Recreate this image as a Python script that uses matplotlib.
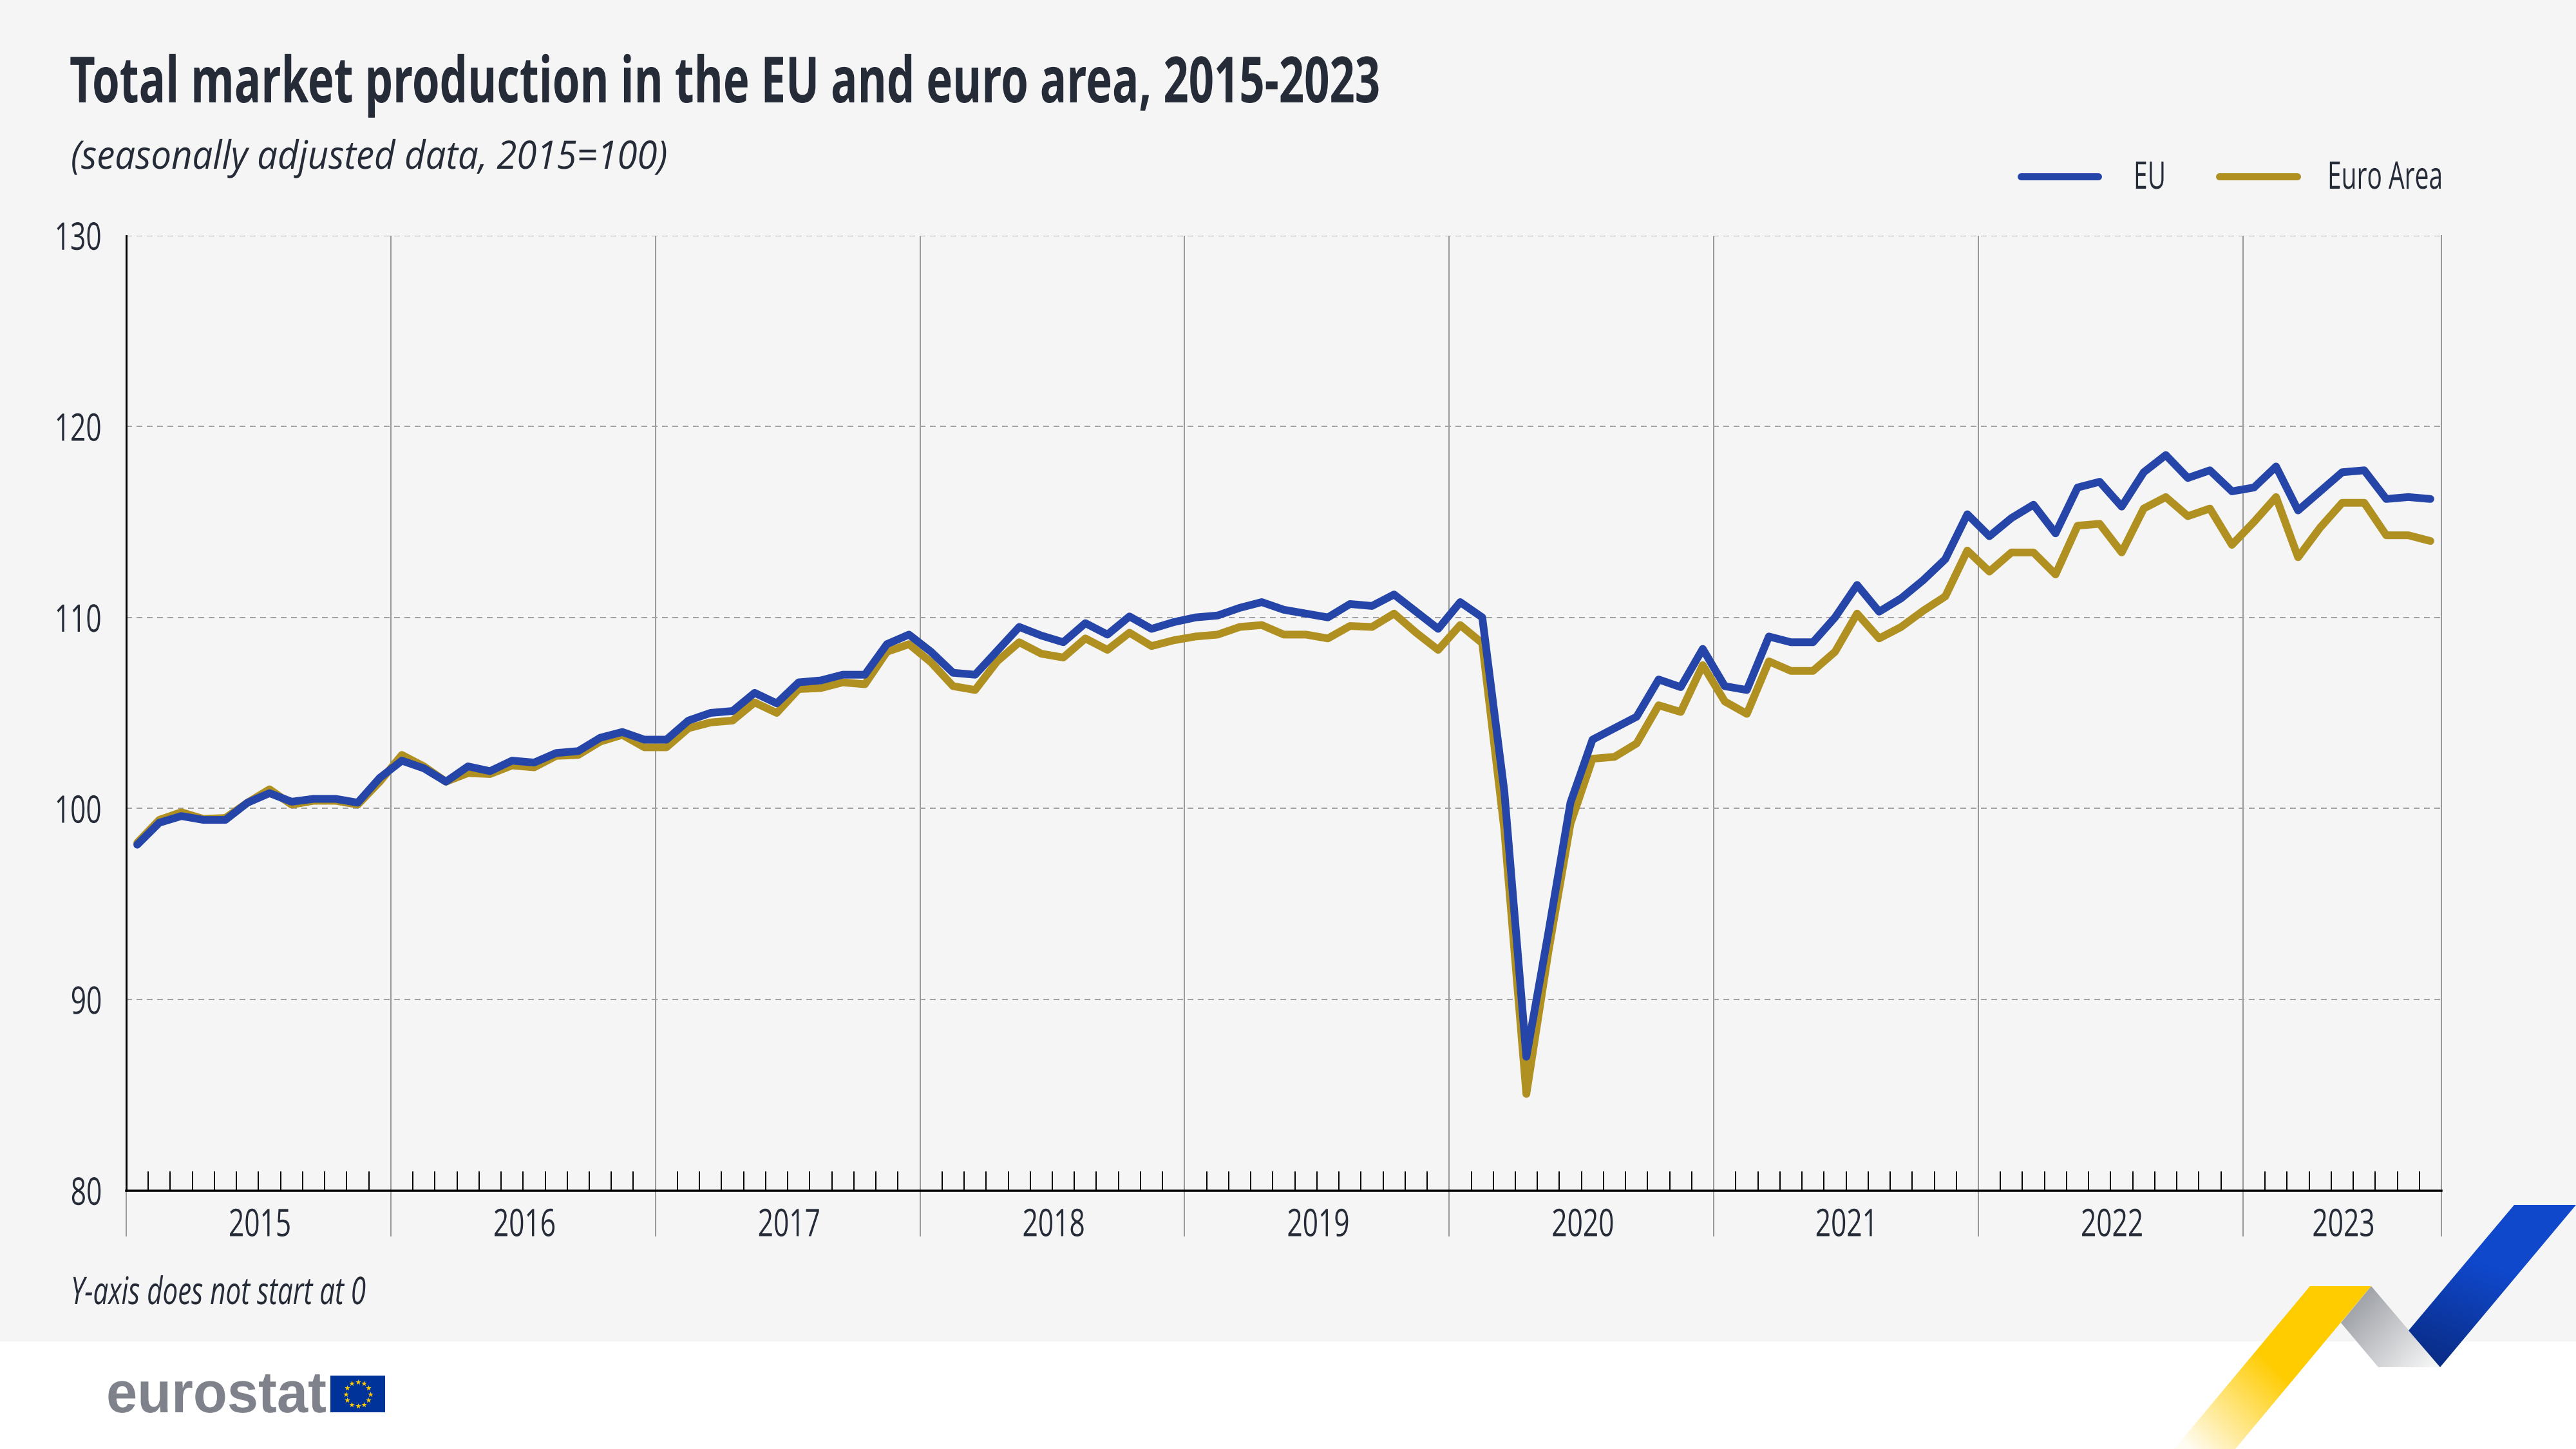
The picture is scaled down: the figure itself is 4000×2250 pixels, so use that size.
import numpy as np
import matplotlib
matplotlib.use("Agg")
import matplotlib.pyplot as plt
from matplotlib.patches import Polygon, Rectangle
from matplotlib.patheffects import AbstractPathEffect
from matplotlib.transforms import Affine2D

plt.rcParams["font.family"] = ["Open Sans", "DejaVu Sans"]

# monthly index, 2015-01 to 2023-09
eu = [
    98.1, 99.25, 99.6, 99.4, 99.4, 100.3, 100.8, 100.35, 100.5, 100.5, 100.3, 101.6,
    102.5, 102.1, 101.4, 102.2, 101.95, 102.5, 102.4, 102.9, 103.0, 103.7, 104.0, 103.6,
    103.6, 104.6, 105.0, 105.1, 106.05, 105.5, 106.6, 106.7, 107.0, 107.0, 108.6, 109.1,
    108.2, 107.1, 107.0, 108.25, 109.5, 109.05, 108.7, 109.7, 109.1, 110.05, 109.4, 109.75,
    110.0, 110.1, 110.5, 110.8, 110.4, 110.2, 110.0, 110.7, 110.6, 111.2, 110.3, 109.4,
    110.8, 110.0, 100.9, 87.0, 93.5, 100.3, 103.6, 104.2, 104.8, 106.75, 106.35, 108.35,
    106.4, 106.2, 109.0, 108.7, 108.7, 110.0, 111.7, 110.3, 111.0, 111.95, 113.05, 115.4,
    114.25, 115.2, 115.9, 114.4, 116.8, 117.1, 115.8, 117.6, 118.5, 117.3, 117.7, 116.6,
    116.8, 117.9, 115.6, 116.6, 117.6, 117.7, 116.2, 116.3, 116.2,
]
euro_area = [
    98.2, 99.4, 99.8, 99.45, 99.5, 100.3, 101.0, 100.2, 100.4, 100.4, 100.2, 101.4,
    102.8, 102.2, 101.4, 101.85, 101.8, 102.25, 102.15, 102.75, 102.8, 103.5, 103.85, 103.2,
    103.2, 104.2, 104.5, 104.6, 105.55, 105.0, 106.25, 106.3, 106.6, 106.5, 108.2, 108.6,
    107.65, 106.4, 106.2, 107.7, 108.7, 108.1, 107.9, 108.9, 108.3, 109.2, 108.5, 108.8,
    109.0, 109.1, 109.5, 109.6, 109.1, 109.1, 108.9, 109.55, 109.5, 110.2, 109.2, 108.3,
    109.6, 108.65, 98.9, 85.05, 92.5, 99.2, 102.6, 102.7, 103.4, 105.4, 105.05, 107.5,
    105.6, 104.95, 107.7, 107.2, 107.2, 108.2, 110.2, 108.9, 109.5, 110.35, 111.1, 113.5,
    112.4, 113.4, 113.4, 112.25, 114.8, 114.9, 113.4, 115.7, 116.3, 115.3, 115.7, 113.8,
    115.0, 116.3, 113.15, 114.7, 116.0, 116.0, 114.3, 114.3, 114.0,
]
years = ["2015", "2016", "2017", "2018", "2019", "2020", "2021", "2022", "2023"]
y_ticks = [80, 90, 100, 110, 120, 130]

BG = "#F5F5F5"
TEXT = "#262B38"
EU_COL = "#2645A9"
EA_COL = "#B09020"
W, H = 4000, 2250
PX = 72 / 250  # points per pixel


class Squeeze(AbstractPathEffect):
    # no condensed font is installed, so narrow the glyphs of a normal Text
    def __init__(self, sx, align=0.0):
        super().__init__()
        self.sx = sx
        self.align = align

    def draw_path(self, renderer, gc, tpath, affine, rgbFace=None):
        width = tpath.get_extents(affine).width
        shift = self.align * (1 - self.sx) * width
        new = Affine2D().scale(self.sx, 1) + affine + Affine2D().translate(shift, 0)
        renderer.draw_path(gc, tpath, new, rgbFace)


def gradient(ax, poly, c0, c1, p0, p1, zorder=2):
    # ribbon filled with a linear gradient from p0 to p1, clipped to the polygon
    xs = np.array([p[0] for p in poly])
    ys = np.array([p[1] for p in poly])
    x0, x1, y0, y1 = xs.min(), xs.max(), ys.min(), ys.max()
    gx, gy = np.meshgrid(np.linspace(x0, x1, 300), np.linspace(y0, y1, 300))
    d = np.array(p1) - np.array(p0)
    t = np.clip(((gx - p0[0]) * d[0] + (gy - p0[1]) * d[1]) / (d @ d), 0, 1)[..., None]
    rgba = (1 - t) * np.array(matplotlib.colors.to_rgba(c0)) + t * np.array(matplotlib.colors.to_rgba(c1))
    im = ax.imshow(rgba, extent=(x0, x1, y1, y0), aspect="auto", zorder=zorder, interpolation="bilinear")
    im.set_clip_path(Polygon(poly, transform=ax.transData))


fig = plt.figure(figsize=(16, 9), dpi=250, facecolor="white")

# page layer in pixel coordinates: background, titles, legend, logo
page = fig.add_axes([0, 0, 1, 1], zorder=0)
page.add_patch(Rectangle((0, 0), W, 2083, color=BG, lw=0))

page.text(108, 159, "Total market production in the EU and euro area, 2015-2023",
          fontsize=28.5, fontweight="bold", color=TEXT, va="baseline",
          path_effects=[Squeeze(0.696)])
page.text(110, 262, "(seasonally adjusted data, 2015=100)",
          fontsize=17.5, fontstyle="italic", color=TEXT, va="baseline",
          path_effects=[Squeeze(0.926)])
page.text(110, 2025, "Y-axis does not start at 0",
          fontsize=17, fontstyle="italic", color=TEXT, va="baseline",
          path_effects=[Squeeze(0.713)])

page.plot([3138, 3258], [274, 274], color=EU_COL, lw=11 * PX, solid_capstyle="round")
page.plot([3446, 3567], [274, 274], color=EA_COL, lw=11 * PX, solid_capstyle="round")
page.text(3313, 293, "EU", fontsize=17, color=TEXT, va="baseline", path_effects=[Squeeze(0.66)])
page.text(3614, 293, "Euro Area", fontsize=17, color=TEXT, va="baseline", path_effects=[Squeeze(0.66)])

# eurostat wordmark and flag
page.text(165, 2193, "eurostat", fontsize=26, fontweight="bold", color="#7F828B",
          va="baseline", family=["Liberation Sans", "DejaVu Sans"], path_effects=[Squeeze(0.96)])
page.add_patch(Rectangle((513, 2136), 85, 57, color="#00339A", lw=0))
ang = np.deg2rad(np.arange(12) * 30)
page.scatter(555.5 + 19 * np.cos(ang), 2164.5 + 18.7 * np.sin(ang), marker="*", s=7,
             color="#FFCC00", linewidths=0, zorder=3)

# ribbon in the lower right corner
gradient(page, [(3635, 2054), (3682, 1997), (3789, 2123), (3693, 2123)],
         "#94979E", "#F5F6F6", (3640, 2010), (3770, 2130), zorder=2)
gradient(page, [(3904, 1871), (4000, 1871), (3789, 2123), (3740, 2066)],
         "#1048CC", "#0A2E8A", (3850, 1960), (3790, 2110), zorder=3)
gradient(page, [(3587, 1997), (3682, 1997), (3471, 2250), (3376, 2250)],
         "#FFCC00", (1, 0.8, 0, 0.05), (3530, 2120), (3400, 2250), zorder=4)

page.set_xlim(0, W)
page.set_ylim(H, 0)
page.axis("off")

# chart layer
ax = fig.add_axes([196 / W, 1 - 1848.5 / H, (3791 - 196) / W, (1848.5 - 365.5) / H], zorder=1)
ax.patch.set_alpha(0)

months = np.arange(len(eu))
ax.plot(months, euro_area, color=EA_COL, lw=12 * PX, solid_joinstyle="round",
        solid_capstyle="round", zorder=3, label="Euro Area")
ax.plot(months, eu, color=EU_COL, lw=12 * PX, solid_joinstyle="round",
        solid_capstyle="round", zorder=4, label="EU")

ax.set_xlim(-0.5, len(eu) - 0.5)
ax.set_ylim(80, 130)
ax.set_yticks(y_ticks)
ax.tick_params(axis="y", length=0, pad=36 * PX, labelsize=17, labelcolor=TEXT)
for label in ax.get_yticklabels():
    label.set_path_effects([Squeeze(0.72, align=1.0)])

year_edges = np.append(np.arange(0, len(eu), 12), len(eu)) - 0.5
ax.set_xticks(year_edges)
ax.set_xticklabels([])
ax.set_xticks([m - 0.5 for m in months[1:] if m % 12 != 0], minor=True)
ax.tick_params(axis="x", which="major", length=71 * PX, width=2 * PX, color="#999999", direction="out")
ax.tick_params(axis="x", which="minor", length=30 * PX, width=2 * PX, color="black", direction="in")
ax.xaxis.get_major_ticks()[0].tick1line.set_color("black")

ax.grid(axis="x", which="major", color="#999999", lw=2 * PX, zorder=1)
ax.grid(axis="y", color="#A3A3A3", lw=2 * PX, linestyle=(0, (4.5, 3.5)), zorder=1)
ax.set_axisbelow(True)

for i, year in enumerate(years):
    ax.annotate(year, ((year_edges[i] + year_edges[i + 1]) / 2, 0), xycoords=ax.get_xaxis_transform(),
                xytext=(3 * PX, -71 * PX), textcoords="offset points", ha="center", va="baseline",
                fontsize=17, color=TEXT, path_effects=[Squeeze(0.72, align=0.5)])

ax.spines["top"].set_visible(False)
ax.spines["right"].set_color("#999999")
ax.spines["right"].set_linewidth(2 * PX)
ax.spines["left"].set_color("black")
ax.spines["left"].set_linewidth(3 * PX)
ax.spines["bottom"].set_color("black")
ax.spines["bottom"].set_linewidth(3.5 * PX)

fig.savefig("out.png", dpi=250)
